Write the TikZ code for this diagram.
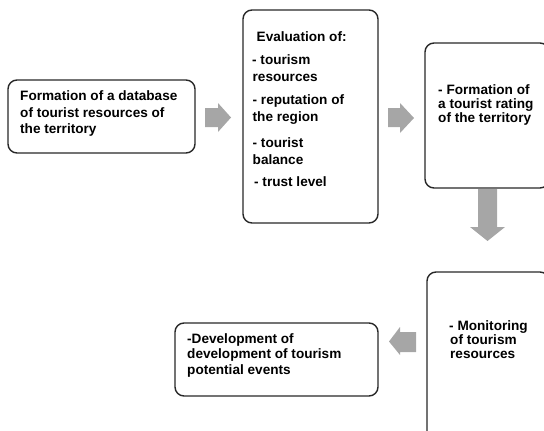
\documentclass[tikz,border=0pt]{standalone}
\usepackage{fontspec}
\setmainfont{Liberation Sans}
\definecolor{arrowgray}{RGB}{166,166,166}
\definecolor{edgegray}{RGB}{40,40,40}
\tikzset{
  boxframe/.style={draw=edgegray, line width=1.4pt, rounded corners=9pt},
  txt/.style={anchor=base west, inner sep=0pt, font=\bfseries\fontsize{13.6}{16}\selectfont},
  blockarrow/.style={fill=arrowgray, draw=none}
}
\begin{document}
\begin{tikzpicture}[x=1pt, y=-1pt]
\useasboundingbox (0,0) rectangle (544,431);
\begin{scope}
\clip (0,0) rectangle (544,431);
% boxes
\draw[boxframe] (8,80) rectangle (195,153);
\coordinate (b1w) at (8,116); \coordinate (b1e) at (195,116);
\draw[boxframe] (243,10) rectangle (378,223);
\draw[boxframe] (425,43) rectangle (549,188);
\draw[boxframe] (427,272) rectangle (549,450);
\draw[boxframe] (175,323) rectangle (378,396);

% box 1 text
\node[txt] (t1a) at (20,100.7) {Formation of a database};
\node[txt] (t1b) at (20,117) {of tourist resources of};
\node[txt] (t1c) at (20,133.3) {the territory};

% box 2 text
\node[txt] (t2a) at (256.5,41.5) {Evaluation of:};
\node[txt] (t2b) at (252,64.5) {- tourism};
\node[txt] (t2c) at (252.5,81.5) {resources};
\node[txt] (t2d) at (252.5,104) {- reputation of};
\node[txt] (t2e) at (252.5,121) {the region};
\node[txt] (t2f) at (252.5,147.5) {- tourist};
\node[txt] (t2g) at (252.5,164.5) {balance};
\node[txt] (t2h) at (254,186.5) {- trust level};

% box 3 text
\node[txt] (t3a) at (438,94) {- Formation of};
\node[txt] (t3b) at (438,108) {a tourist rating};
\node[txt] (t3c) at (438,122) {of the territory};

% box 4 text
\node[txt] (t4a) at (449,330.5) {- Monitoring};
\node[txt] (t4b) at (450,344.5) {of tourism};
\node[txt] (t4c) at (450,358.5) {resources};

% box 5 text
\node[txt] (t5a) at (187,343) {-Development of};
\node[txt] (t5b) at (187,358.5) {development of tourism};
\node[txt] (t5c) at (187,374) {potential events};

% block arrows
\fill[blockarrow] (205,108) -- (218,108) -- (218,103) -- (231,117.5) -- (218,132) -- (218,127) -- (205,127) -- cycle;
\fill[blockarrow] (388,108) -- (400,108) -- (400,103) -- (414,118) -- (400,133) -- (400,127) -- (388,127) -- cycle;
\fill[blockarrow] (478,189) -- (497,189) -- (497,227) -- (505,227) -- (487.5,241) -- (470,227) -- (478,227) -- cycle;
\fill[blockarrow] (416,332) -- (416,352) -- (400,352) -- (400,355) -- (389,341.5) -- (400,327) -- (400,332) -- cycle;
\end{scope}
\end{tikzpicture}
\end{document}
